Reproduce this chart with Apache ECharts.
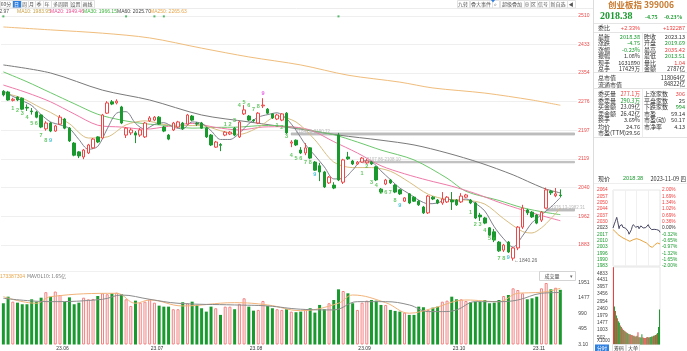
<!DOCTYPE html>
<html><head><meta charset="utf-8">
<script src="https://cdn.jsdelivr.net/npm/echarts@6/dist/echarts.min.js"></script>
<style>html,body{margin:0;padding:0;background:#fff;overflow:hidden}#c{width:687px;height:351px}</style>
</head><body><div id="c"></div>
<script>
// ---------------- data ----------------
const monthDays = [
 ['23.05',[17,18,19,22,23,24,25,26,29,30,31]],
 ['23.06',[1,2,5,6,7,8,9,12,13,14,15,16,19,20,21,26,27,28,29,30]],
 ['23.07',[3,4,5,6,7,10,11,12,13,14,17,18,19,20,21,24,25,26,27,28,31]],
 ['23.08',[1,2,3,4,7,8,9,10,11,14,15,16,17,18,21,22,23,24,25,28,29,30,31]],
 ['23.09',[1,4,5,6,7,8,11,12,13,14,15,18,19,20,21,22,25,26,27,28]],
 ['23.10',[9,10,11,12,13,16,17,18,19,20,23,24,25,26,27,30,31]],
 ['23.11',[1,2,3,6,7,8,9]]
];
const openP = [2304,2302,2279,2288,2285,2260,2250,2247,2239,2201,2217,2195,2214,2228,2203,2162,2138,2124,2135,2149,
 2179,2176,2244,2275,2272,2261,2184,2190,2190,2184,2179,2223,2225,2233,2206,2184,2198,2206,2217,2214,
 2236,2216,2217,2203,2184,2151,2158,2184,2187,2203,2179,2242,2236,2225,2217,2264,2255,2242,2228,2225,
 2244,2162,2170,2143,2135,2149,2110,2100,2083,2053,2047,2184,2055,2124,2113,2105,2110,2108,2110,2097,
 2036,2050,2061,2047,2034,2003,2023,2014,2003,1987,1971,2014,2006,1998,2001,2006,2006,2001,2014,2006,
 1998,1965,1957,1930,1919,1891,1869,1891,1847,1875,1932,1979,1973,1965,1951,1984,2030,2018,2019.69];
const closeP = [2294,2280,2282,2280,2255,2258,2248,2233,2206,2217,2195,2209,2233,2203,2168,2129,2127,2143,2157,2173,
 2165,2239,2272,2269,2277,2217,2203,2198,2184,2198,2217,2231,2233,2214,2195,2173,2217,2220,2201,2239,
 2225,2214,2203,2179,2157,2165,2156,2192,2192,2184,2220,2253,2225,2223,2244,2266,2244,2231,2239,2242,
 2190,2165,2157,2135,2149,2121,2088,2083,2042,2069,2039,2061,2116,2119,2105,2110,2121,2113,2105,2061,
 2028,2061,2053,2028,2023,2012,1998,2003,1993,1971,2017,2009,1998,2009,2014,2001,1993,2017,2020,1998,
 1957,1960,1943,1910,1897,1867,1883,1864,1875,1932,1984,1971,1960,1943,1973,2034,2026,2023.13,2018.38];
const lowP = [2290,2278,2276,2277,2252,2250,2240,2230,2203,2196,2192,2193,2212,2200,2165,2126,2121,2118,2132,2146,
 2162,2173,2242,2266,2268,2214,2176,2184,2162,2179,2176,2220,2222,2212,2192,2170,2195,2203,2198,2212,
 2222,2209,2201,2176,2154,2149,2140,2181,2184,2181,2176,2239,2222,2220,2214,2258,2241,2228,2225,2222,
 2187,2151,2154,2132,2129,2118,2086,2058,2039,2050,2036,2058,2050,2116,2102,2102,2108,2105,2102,2058,
 2025,2047,2050,2025,2020,2001,1995,2001,1990,1968,1968,2006,1995,1993,1998,1979,1990,1998,2012,1995,
 1954,1949,1940,1908,1891,1864,1864,1861,1840.26,1869,1927,1965,1957,1940,1946,1982,2020,2014,2013.51];
const highP = [2307,2305,2286,2290,2287,2268,2258,2250,2241,2222,2220,2212,2239,2231,2206,2165,2140,2146,2160,2176,
 2181,2242,2277,2280,2282,2264,2206,2203,2195,2203,2220,2236,2236,2236,2209,2187,2220,2223,2220,2242,
 2239,2220,2220,2206,2187,2168,2162,2195,2195,2206,2223,2266,2239,2228,2247,2285,2258,2244,2242,2244,
 2247,2170,2172,2151,2162,2151,2113,2108,2086,2072,2055,2190,2119,2138,2116,2113,2124,2119,2113,2100,
 2039,2064,2064,2050,2036,2014,2025,2017,2006,1990,2020,2017,2009,2028,2017,2028,2009,2025,2023,2009,
 2001,1971,1960,1932,1927,1894,1886,1894,1878,1935,1993,1982,1976,1968,1976,2040,2034,2039,2035.42];
const volume = [1308,1517,1359,1327,1277,1277,1434,1359,1485,1660,1517,1680,1570,1359,1495,1277,1327,1485,1434,1445,
 1539,1624,1595,1624,1645,1595,1434,1223,1391,1327,1359,1434,1327,1232,1201,1201,1119,1119,1340,1308,
 1359,1255,1150,1043,1201,1150,939,1201,1201,1119,1290,1466,1201,1074,1097,1381,1223,1150,1119,1097,
 1119,1043,1024,1043,1119,1150,1011,1255,1119,1308,1412,1750,1697,1624,1308,1097,1327,1391,1412,1391,
 1255,1255,1097,1065,1043,1011,939,939,1201,1182,1097,1169,1201,1359,1391,1517,1434,1434,1381,1340,
 1359,1359,1412,1308,1327,1412,1539,1570,1782,1728,1624,1434,1466,1517,1782,1951,1750,1800,1734];
const ma5 = [[0,2305],[2,2290],[4,2278],[6,2265],[8,2240],[10,2220],[12,2212],[14,2202],[16,2172],[18,2145],[20,2153],[22,2201],[24,2244],[26,2248],[28,2216],[30,2200],[32,2213],[34,2218],[36,2206],[38,2201],[40,2220],[42,2216],[44,2196],[46,2172],[48,2172],[50,2189],[52,2215],[54,2233],[56,2240],[58,2245],[60,2229],[62,2197],[64,2158],[66,2128],[68,2097],[70,2064],[72,2065],[74,2088],[76,2114],[78,2111],[80,2086],[82,2062],[84,2039],[86,2023],[88,2006],[90,1996],[92,1998],[94,2009],[96,2003],[98,2009],[100,1997],[102,1976],[104,1933],[106,1900],[108,1877],[110,1908],[112,1944],[114,1966],[116,1987],[118,2012.97]];
const ma10 = [[0,2300],[4,2285],[8,2258],[10,2246],[14,2215],[18,2176],[22,2179],[26,2212],[30,2223],[34,2213],[38,2210],[42,2210],[46,2196],[50,2186],[54,2205],[58,2235],[62,2220],[66,2171],[70,2110],[74,2095],[78,2095],[82,2085],[86,2055],[90,2022],[94,2008],[98,2006],[102,1995],[106,1955],[110,1920],[112,1916],[114,1930],[116,1955],[118,1983.95]];
const ma20 = [[0,2321],[5,2300],[10,2275],[15,2242],[20,2211],[25,2206],[30,2200],[35,2208],[40,2216],[45,2205],[50,2198],[55,2206],[60,2207],[65,2198],[70,2166],[75,2135],[80,2100],[85,2078],[90,2060],[95,2044],[100,2024],[105,2000],[108,1987],[112,1971],[115,1960],[118,1949.46]];
const ma30 = [[0,2357],[5,2330],[10,2300],[15,2270],[20,2241],[25,2225],[30,2215],[35,2210],[40,2203],[45,2205],[50,2206],[55,2210],[60,2208],[65,2197],[70,2185],[75,2165],[80,2143],[87,2116],[94,2066],[98,2030],[105,2005],[110,1985],[115,1972],[118,1966.15]];
const ma60 = [[0,2376],[10,2354],[21,2307],[31,2280],[42,2239],[52,2220],[63,2200],[71,2184],[80,2170],[87,2157],[94,2135],[101,2108],[108,2075],[112,2052],[115,2036],[118,2025.7]];
const ma250 = [[0,2480],[10,2472],[21,2463],[31,2450],[42,2422],[52,2398],[63,2376],[73,2348],[84,2329],[91,2313],[102,2299],[112,2280],[118,2265.63]];
const mavol5 = [[0,1517],[7,1308],[10,1517],[24,1624],[28,1308],[31,1412],[38,1223],[49,1327],[56,1255],[63,1074],[71,1308],[74,1570],[81,1327],[86,992],[91,1150],[98,1412],[105,1359],[109,1624],[112,1643],[115,1675],[118,1782]];
const mavol10 = [[0,1466],[10,1359],[21,1434],[25,1570],[31,1434],[37,1308],[49,1255],[56,1223],[63,1119],[70,1097],[75,1359],[81,1359],[86,1255],[90,1043],[93,1043],[96,1097],[100,1359],[105,1359],[109,1412],[114,1624],[118,1650]];
const priceTicks = [2510,2433,2354,2276,2197,2119,2040,1962,1883];
const volTicks = [1951,1477,990,495,3.10];
const volTickLabels = ['1951','1477','990','495','3.10'];
const gaps = [[61,2184,2190,'2184.08-2190.72'],[76,2108,2112,'2107.86-2108.10'],[115,1976,1982,'1976.13-1982.31']];
const lowMark = [108,1840.26,'1840.26'];
const eventMarks = [0,26,32,34,71];
// 九转 digits: [index, price position, digit, kind]
const nineTurn = [
 [2,2258,'1','g'],[3,2250,'2','g'],[4,2242,'3','g'],[5,2231,'4','g'],[6,2217,'5','g'],[7,2217,'6','g'],[8,2184,'7','g'],[9,2170,'8','g'],[10,2170,'9','c'],
 [47,2212,'1','g'],[48,2212,'2','g'],[49,2223,'3','g'],[50,2264,'4','g'],[51,2272,'5','g'],[52,2264,'6','g'],[53,2253,'7','g'],[54,2261,'8','g'],[55,2299,'9','m'],
 [58,2209,'1','g'],[59,2206,'2','g'],[60,2179,'3','g'],[61,2129,'4','g'],[62,2121,'5','g'],[63,2121,'6','g'],[64,2108,'7','g'],[65,2108,'8','g'],[66,2075,'9','c'],
 [76,2080,'1','g'],[77,2097,'2','g'],[78,2053,'3','g'],[79,2047,'4','g'],[80,2028,'5','g'],[81,2028,'6','g'],[82,2028,'7','g'],[83,2006,'8','g'],[84,1990,'9','c'],
 [99,1973,'1','g'],[100,1938,'2','g'],[101,1938,'3','g'],[102,1924,'4','g'],[103,1902,'5','g'],[104,1897,'6','g'],[105,1847,'7','g'],[106,1847,'8','g'],[107,1850,'9','c']
];
// intraday
const prevClose = 2023.13;
const minPrice = [[0,2023.1],[3,2023.2],[7,2027.5],[12,2030.2],[16,2032],[19,2034.5],[23,2031],[26,2030.2],[31,2022.4],[35,2025.5],[39,2024.9],[46,2026.7],[50,2024],[53,2023.2],[60,2026],[65,2022.8],[69,2021.4],[77,2019.6],[82,2016.5],[86,2014.5],[90,2018],[94,2021.4],[98,2024.5],[103,2026.7],[111,2026.7],[116,2024],[120,2023.2],[125,2025.6],[129,2024.9],[133,2022.3],[137,2023.2],[142,2025.4],[146,2026.7],[150,2024.1],[154,2023.2],[159,2021.8],[163,2021.4],[167,2023.5],[171,2023.2],[176,2025.2],[180,2026.7],[185,2024.2],[189,2023.2],[193,2022.1],[197,2021.4],[202,2022.6],[206,2023.2],[210,2021.7],[214,2022.5],[219,2021.9],[223,2021.4],[227,2020.6],[231,2019.6],[236,2020.4],[240,2018.4]];
const minAvg = [[0,2021.4],[7,2019.8],[14,2018.9],[26,2016],[34,2015.3],[51,2012.5],[69,2010.7],[86,2008.9],[103,2010.7],[120,2011.8],[137,2010.7],[154,2008.9],[171,2007.2],[189,2003.6],[201,2002.5],[214,2005.4],[228,2007.2],[240,2006.1]];
const minVol = [5300,2600,2300,2000,1800,1600,1500,1300,1200,1100,1000,950,900,850,800,750,700,700,650,650,600,600,550,550,600,850,500,500,480,700,500,460,450,450,500,520,480,500,520,550,560,600,620,650,700,800,1200,2400];
const minVolDir = 'rgrgrggrgrgrgrggrgrrgrgrgrgrggrgrrgrgrggrgrgrgg';
const minPriceLabels = ['2064','2057','2050','2044','2037','2030','2023','2017','2010','2003','1996','1990','1983'];
const minPctLabels = ['2.00%','1.69%','1.34%','1.02%','0.69%','0.36%','0.00%','-0.32%','-0.65%','-0.97%','-1.32%','-1.65%','-2.00%'];
const minVolTicks = [4833,4431,3957,3456,2954,2460,1979,1477,1003,502];
const quoteRows1 = [
 ['最新','2018.38','g','昨收','2023.13','d'],
 ['涨跌','-4.75','g','开盘','2019.69','g'],
 ['涨幅','-0.23%','g','最高','2035.42','r'],
 ['振幅','1.08%','d','最低','2013.51','g'],
 ['现手','1631890','d','量比','1.04','r'],
 ['总手','17429万','d','金额','2787亿','d']
];
const quoteRows2 = [['总市值','118064亿'],['流通市值','84822亿']];
const quoteRows3 = [
 ['委买量','277.1万','r','上涨家数','306','r'],
 ['委卖量','290.3万','g','平盘家数','25','d'],
 ['买金额','23.09亿','d','下跌家数','994','g'],
 ['卖金额','26.42亿','d','市盈','59.14','d'],
 ['换手','3.69%','d','市盈(动)','50.17','d'],
 ['均价','24.76','d','市净率','4.13','d'],
 ['市盈(TTM)','29.56','d','','','d']
];
const legendItems = [['MA5: 2012.97','#555',-22],['MA10: 1983.95','#c9a24a',17],['MA20: 1949.46','#ee4f93',50],['MA30: 1966.15','#3fb43f',83],['MA60: 2025.70','#444',117],['MA250: 2265.63','#e8a54a',150]];
const leftTools = [['60分',0,12],['日',12,21],['周',21,28],['月',28,35],['季',35,43],['年',43,51],['多周期',51,70],['设置',70,81],['画线',81,94]];
const rightTools = [['九转',457,469],['叠大事件',470,492],['⌕',492,499],['超级叠加',500,524],['⊕',524,530],['区',530,537],['信号',537,549],['新自选',549,567],['◀',567,575]];

// ---------------- build ----------------
const cats = [], monthStart = {};
monthDays.forEach(([m, days], k) => days.forEach((d, j) => { if (j === 0 && k > 0) monthStart[cats.length] = m; cats.push(m + '.' + d); }));
const EXTRA = 3;
for (let k = 0; k < EXTRA; k++) cats.push(' '.repeat(k + 1));
const NC = cats.length;
const STEP = 4.72;

const RED = '#f23c3c', GRN = '#1a9a2e', DK = '#333';
const colorOf = c => c === 'r' ? RED : c === 'g' ? GRN : DK;
const F = '"Liberation Sans", Arial, "Noto Sans CJK SC", sans-serif';
const CJK = '"Noto Sans CJK SC", "Liberation Sans", sans-serif';

const ohlc = openP.map((o, i) => [o, closeP[i], lowP[i], highP[i]]);
const volData = volume.map((v, i) => ({
  value: v,
  itemStyle: closeP[i] >= openP[i] ? {color: '#fff', borderColor: '#f28080', borderWidth: 1} : {color: '#1a9a2e', borderWidth: 0}
}));
const ntColor = {g: '#3cb93c', c: '#19b5c8', m: '#e03be0'};
const ntData = nineTurn.map(([i, p, d, k]) => ({value: [i, p], label: {formatter: d, color: ntColor[k]}}));

function T(x, y, text, fill, size, align, weight, family) {
  return {type: 'text', x: x, y: y, silent: true, z: 100,
    style: {text: text, fill: fill, font: (weight || 'normal') + ' ' + size + 'px ' + (family || F),
      textAlign: align || 'left', textVerticalAlign: 'middle', align: align || 'left', verticalAlign: 'middle'}};
}
function L(x1, y1, x2, y2, c) { return {type: 'line', silent: true, z: 90, shape: {x1, y1, x2, y2}, style: {stroke: c || '#e6e6e6', lineWidth: 1}}; }
function Rc(x, y, w, h, fill, stroke) { return {type: 'rect', silent: true, z: 95, shape: {x, y, width: w, height: h}, style: {fill: fill, stroke: stroke || null, lineWidth: 1}}; }

const graphics = [];
leftTools.forEach(([t, a, b]) => {
  const act = t === '日';
  graphics.push(Rc(a + 0.5, 0.5, b - a, 7.5, act ? '#2d7fe0' : '#fff', '#e2e2e2'));
  graphics.push(T((a + b) / 2, 4.3, t, act ? '#fff' : '#555', 5, 'center', 'normal', CJK));
});
rightTools.forEach(([t, a, b]) => {
  graphics.push(Rc(a + 0.5, 0.5, b - a, 7.5, '#fff', '#e2e2e2'));
  graphics.push(T((a + b) / 2, 4.3, t, '#555', 5, 'center', 'normal', CJK));
});
graphics.push({type: 'polygon', silent: true, z: 99, shape: {points: [[491, 0], [495, 0], [493, 2.5]]}, style: {fill: '#2d7fe0'}});
graphics.push(L(0, 8.5, 593, 8.5, '#ececec'));
legendItems.forEach(([t, c, x]) => graphics.push(T(x, 12, t, c, 5)));
graphics.push(L(0, 271.5, 576, 271.5, '#f0f0f0'));
graphics.push(T(0, 276.5, '173387304', '#e8a54a', 5));
graphics.push(T(27, 276.5, 'MAVOL10: 1.65亿', '#777', 5, 'left', 'normal', CJK));
graphics.push(Rc(539.5, 271.5, 36, 9, '#fff', '#d4d4d4'));
graphics.push(T(552, 276.2, '成交量', '#444', 5, 'center', 'normal', CJK));
graphics.push(T(571, 276.2, '▾', '#666', 5, 'center'));
// right panel
graphics.push(L(593.5, 0, 593.5, 351, '#dcdcdc'));
graphics.push(T(641, 5, '创业板指 399006', '#c8782c', 8.5, 'center', 'bold', CJK));
graphics.push(T(600, 16.5, '2018.38', GRN, 10, 'left', 'bold', '"Liberation Serif", "DejaVu Serif", serif'));
graphics.push(T(645, 17, '-4.75', GRN, 6, 'left', 'bold', '"Liberation Serif", serif'));
graphics.push(T(664, 17, '-0.23%', GRN, 6, 'left', 'bold', '"Liberation Serif", serif'));
[23.5, 32.5, 72.5, 88.5, 137.5].forEach(y => graphics.push(L(594, y, 687, y, '#e4e4e4')));
graphics.push(L(642.5, 32.5, 642.5, 72.5, '#ececec'));
graphics.push(L(642.5, 88.5, 642.5, 137.5, '#ececec'));
const LS = 6, VS = 5.6;
graphics.push(T(598, 28, '委比', DK, LS, 'left', 'normal', CJK));
graphics.push(T(640, 28, '+2.33%', RED, VS, 'right'));
graphics.push(T(685, 28, '+132287', RED, VS, 'right'));
quoteRows1.forEach((r, k) => {
  const y = 36.5 + k * 6.5;
  graphics.push(T(598, y, r[0], DK, LS, 'left', 'normal', CJK));
  graphics.push(T(640, y, r[1], colorOf(r[2]), VS, 'right', 'normal', CJK));
  graphics.push(T(644, y, r[3], DK, LS, 'left', 'normal', CJK));
  graphics.push(T(685, y, r[4], colorOf(r[5]), VS, 'right', 'normal', CJK));
});
quoteRows2.forEach((r, k) => {
  const y = 77.5 + k * 6.8;
  graphics.push(T(598, y, r[0], DK, LS, 'left', 'normal', CJK));
  graphics.push(T(685, y, r[1], DK, VS, 'right', 'normal', CJK));
});
quoteRows3.forEach((r, k) => {
  const y = 94 + k * 6.5;
  graphics.push(T(598, y, r[0], DK, LS, 'left', 'normal', CJK));
  graphics.push(T(640, y, r[1], colorOf(r[2]), VS, 'right', 'normal', CJK));
  if (r[3]) graphics.push(T(644, y, r[3], DK, LS, 'left', 'normal', CJK));
  if (r[4]) graphics.push(T(685, y, r[4], colorOf(r[5]), VS, 'right', 'normal', CJK));
});
graphics.push(T(598, 178.5, '现价', DK, LS, 'left', 'normal', CJK));
graphics.push(T(623, 178.5, '2018.38', GRN, VS, 'left'));
graphics.push(T(686, 178.5, '2023-11-09 四', DK, VS, 'right', 'normal', CJK));
graphics.push(L(594, 183.5, 687, 183.5, '#eeeeee'));
graphics.push(T(597, 341, 'X1000', '#444', 4.5));
graphics.push(Rc(595, 344.5, 14, 7, '#2d7fe0', null));
graphics.push(T(602, 348, '分时', '#fff', 5, 'center', 'normal', CJK));
graphics.push(Rc(612.5, 344.5, 13, 7, '#fff', '#e0e0e0'));
graphics.push(T(619, 348, '筹码', '#333', 5, 'center', 'normal', CJK));
graphics.push(Rc(626.5, 344.5, 13, 7, '#fff', '#e0e0e0'));
graphics.push(T(633, 348, '大单', '#333', 5, 'center', 'normal', CJK));

const minTickVals = minPriceLabels.map((_, k) => prevClose + (6 - k) * prevClose * 0.02 / 6);
const minLabelColor = (v) => Math.abs(v - prevClose) < 0.5 ? '#333' : (v > prevClose ? RED : GRN);
const nearestIdx = (arr, v) => { let b = 0; arr.forEach((a, k) => { if (Math.abs(a - v) < Math.abs(arr[b] - v)) b = k; }); return b; };

const option = {
  animation: false,
  backgroundColor: '#fff',
  textStyle: {fontFamily: F},
  grid: [
    {left: 1, top: 14, width: NC * STEP, height: 248},
    {left: 1, top: 283, width: NC * STEP, height: 61.7},
    {left: 613, top: 190, width: 47, height: 76, show: true, borderColor: '#e6e6e6', borderWidth: 1},
    {left: 613, top: 267, width: 47, height: 77.6, show: true, borderColor: '#e6e6e6', borderWidth: 1}
  ],
  xAxis: [
    {type: 'category', gridIndex: 0, data: cats, boundaryGap: true, axisLine: {show: false}, axisTick: {show: false}, axisLabel: {show: false}, splitLine: {show: false}},
    {type: 'category', gridIndex: 1, data: cats, boundaryGap: true, axisLine: {show: false}, axisTick: {show: false}, splitLine: {show: false},
      axisLabel: {show: true, interval: (idx) => monthStart[idx] !== undefined, formatter: (v, idx) => monthStart[idx] || '', align: 'left', margin: 1.5, color: '#333', fontSize: 5, padding: [0, 0, 0, 1]}},
    {type: 'value', gridIndex: 2, min: 0, max: 240, interval: 60, axisLine: {show: false}, axisTick: {show: false}, axisLabel: {show: false}, splitLine: {show: true, lineStyle: {color: '#f0f0f0'}}},
    {type: 'category', gridIndex: 3, data: minVol.map((_, k) => k), boundaryGap: true, axisLine: {show: false}, axisTick: {show: false}, axisLabel: {show: false}}
  ],
  yAxis: [
    {type: 'value', gridIndex: 0, position: 'right', min: 1836.5, max: 2515.5, splitLine: {show: false}, axisLine: {show: false}, axisTick: {show: false},
      axisLabel: {customValues: priceTicks, formatter: v => String(Math.round(v)), color: '#ee4a4a', fontSize: 5, margin: 1.5}},
    {type: 'value', gridIndex: 1, position: 'right', min: 0, max: 1951, splitLine: {show: false}, axisLine: {show: false}, axisTick: {show: false},
      axisLabel: {customValues: volTicks, formatter: v => volTickLabels[nearestIdx(volTicks, v)], color: '#444', fontSize: 5, margin: 1.5}},
    {type: 'value', gridIndex: 2, position: 'left', min: minTickVals[12], max: minTickVals[0], splitLine: {show: false}, axisLine: {show: false}, axisTick: {show: false},
      axisLabel: {customValues: minTickVals, formatter: v => minPriceLabels[nearestIdx(minTickVals, v)], color: v => minLabelColor(v), fontSize: 4.8, align: 'left', margin: 16}},
    {type: 'value', gridIndex: 2, position: 'right', min: minTickVals[12], max: minTickVals[0], splitLine: {show: false}, axisLine: {show: false}, axisTick: {show: false},
      axisLabel: {customValues: minTickVals, formatter: v => minPctLabels[nearestIdx(minTickVals, v)], color: v => minLabelColor(v), fontSize: 4.8, align: 'left', margin: 2}},
    {type: 'value', gridIndex: 3, position: 'left', min: 0, max: 5312, splitLine: {show: false}, axisLine: {show: false}, axisTick: {show: false},
      axisLabel: {customValues: minVolTicks, formatter: v => String(minVolTicks[nearestIdx(minVolTicks, v)]), color: '#444', fontSize: 4.8, align: 'left', margin: 16}}
  ],
  series: [
    {type: 'candlestick', xAxisIndex: 0, yAxisIndex: 0, data: ohlc, barWidth: 3, z: 4,
      itemStyle: {color: '#fff', color0: GRN, borderColor: '#f04848', borderColor0: GRN, borderWidth: 1},
      markLine: {silent: true, symbol: ['none', 'none'], label: {show: false}, z: 1,
        lineStyle: {color: '#efefef', width: 1, type: 'solid'}, data: priceTicks.map(v => ({yAxis: v}))},
      markArea: {silent: true, z: 1, itemStyle: {color: 'rgba(160,160,160,0.6)', borderColor: '#999', borderWidth: 0.5},
        data: gaps.map(g => [{xAxis: g[0], yAxis: g[1]}, {xAxis: NC - 1, yAxis: g[2]}])}
    },
    {type: 'line', name: 'MA250', xAxisIndex: 0, yAxisIndex: 0, data: ma250, showSymbol: false, smooth: 0.3, lineStyle: {color: '#f0bd7c', width: 1}, z: 2, silent: true},
    {type: 'line', name: 'MA60', xAxisIndex: 0, yAxisIndex: 0, data: ma60, showSymbol: false, smooth: 0.3, lineStyle: {color: '#7a7a7a', width: 1}, z: 2, silent: true},
    {type: 'line', name: 'MA30', xAxisIndex: 0, yAxisIndex: 0, data: ma30, showSymbol: false, smooth: 0.3, lineStyle: {color: '#6cc86c', width: 1}, z: 2, silent: true},
    {type: 'line', name: 'MA20', xAxisIndex: 0, yAxisIndex: 0, data: ma20, showSymbol: false, smooth: 0.3, lineStyle: {color: '#ef7aa8', width: 1}, z: 2, silent: true},
    {type: 'line', name: 'MA10', xAxisIndex: 0, yAxisIndex: 0, data: ma10, showSymbol: false, smooth: 0.3, lineStyle: {color: '#d8bd80', width: 1}, z: 2, silent: true},
    {type: 'line', name: 'MA5', xAxisIndex: 0, yAxisIndex: 0, data: ma5, showSymbol: false, smooth: 0.3, lineStyle: {color: '#80808e', width: 1}, z: 3, silent: true},
    {type: 'scatter', xAxisIndex: 0, yAxisIndex: 0, data: ntData, symbolSize: 0, silent: true, z: 6,
      label: {show: true, position: 'inside', fontSize: 5.5, fontWeight: 'bold', fontFamily: F}},
    {type: 'scatter', xAxisIndex: 0, yAxisIndex: 0, data: eventMarks.map(i => [i, 2509]), symbol: 'rect', symbolSize: [2, 2], itemStyle: {color: '#2aa84a'}, silent: true, z: 6},
    {type: 'scatter', xAxisIndex: 0, yAxisIndex: 0, data: [[lowMark[0], lowMark[1]]], symbolSize: 0, silent: true, z: 6,
      label: {show: true, position: 'right', distance: 1, formatter: '←' + lowMark[2], color: '#444', fontSize: 5}},
    {type: 'scatter', xAxisIndex: 0, yAxisIndex: 0, symbolSize: 0, silent: true, z: 6,
      data: gaps.map(g => [g[0] + 1, g[2] + 4]),
      label: {show: true, position: 'right', distance: 0, formatter: p => gaps[p.dataIndex][3], color: '#aaa', fontSize: 4.5}},
    {type: 'bar', xAxisIndex: 1, yAxisIndex: 1, data: volData, barWidth: 3, z: 2, silent: true},
    {type: 'line', xAxisIndex: 1, yAxisIndex: 1, data: mavol5, showSymbol: false, smooth: 0.4, lineStyle: {color: '#f2b37a', width: 1}, z: 3, silent: true},
    {type: 'line', xAxisIndex: 1, yAxisIndex: 1, data: mavol10, showSymbol: false, smooth: 0.4, lineStyle: {color: '#8c8c8c', width: 1}, z: 3, silent: true},
    {type: 'line', xAxisIndex: 2, yAxisIndex: 2, data: minAvg, showSymbol: false, lineStyle: {color: '#e8a33c', width: 1}, z: 3, silent: true},
    {type: 'line', xAxisIndex: 2, yAxisIndex: 2, data: minPrice, showSymbol: false, lineStyle: {color: '#4a4a66', width: 1}, z: 4, silent: true},
    {type: 'bar', xAxisIndex: 3, yAxisIndex: 4, barCategoryGap: '0%', silent: true,
      data: minVol.map((v, k) => ({value: v, itemStyle: {color: minVolDir[k] === 'r' ? '#ef3d3d' : '#1f9a2e'}}))}
  ],
  graphic: graphics
};
const chart = echarts.init(document.getElementById('c'));
chart.setOption(option);
</script></body></html>
